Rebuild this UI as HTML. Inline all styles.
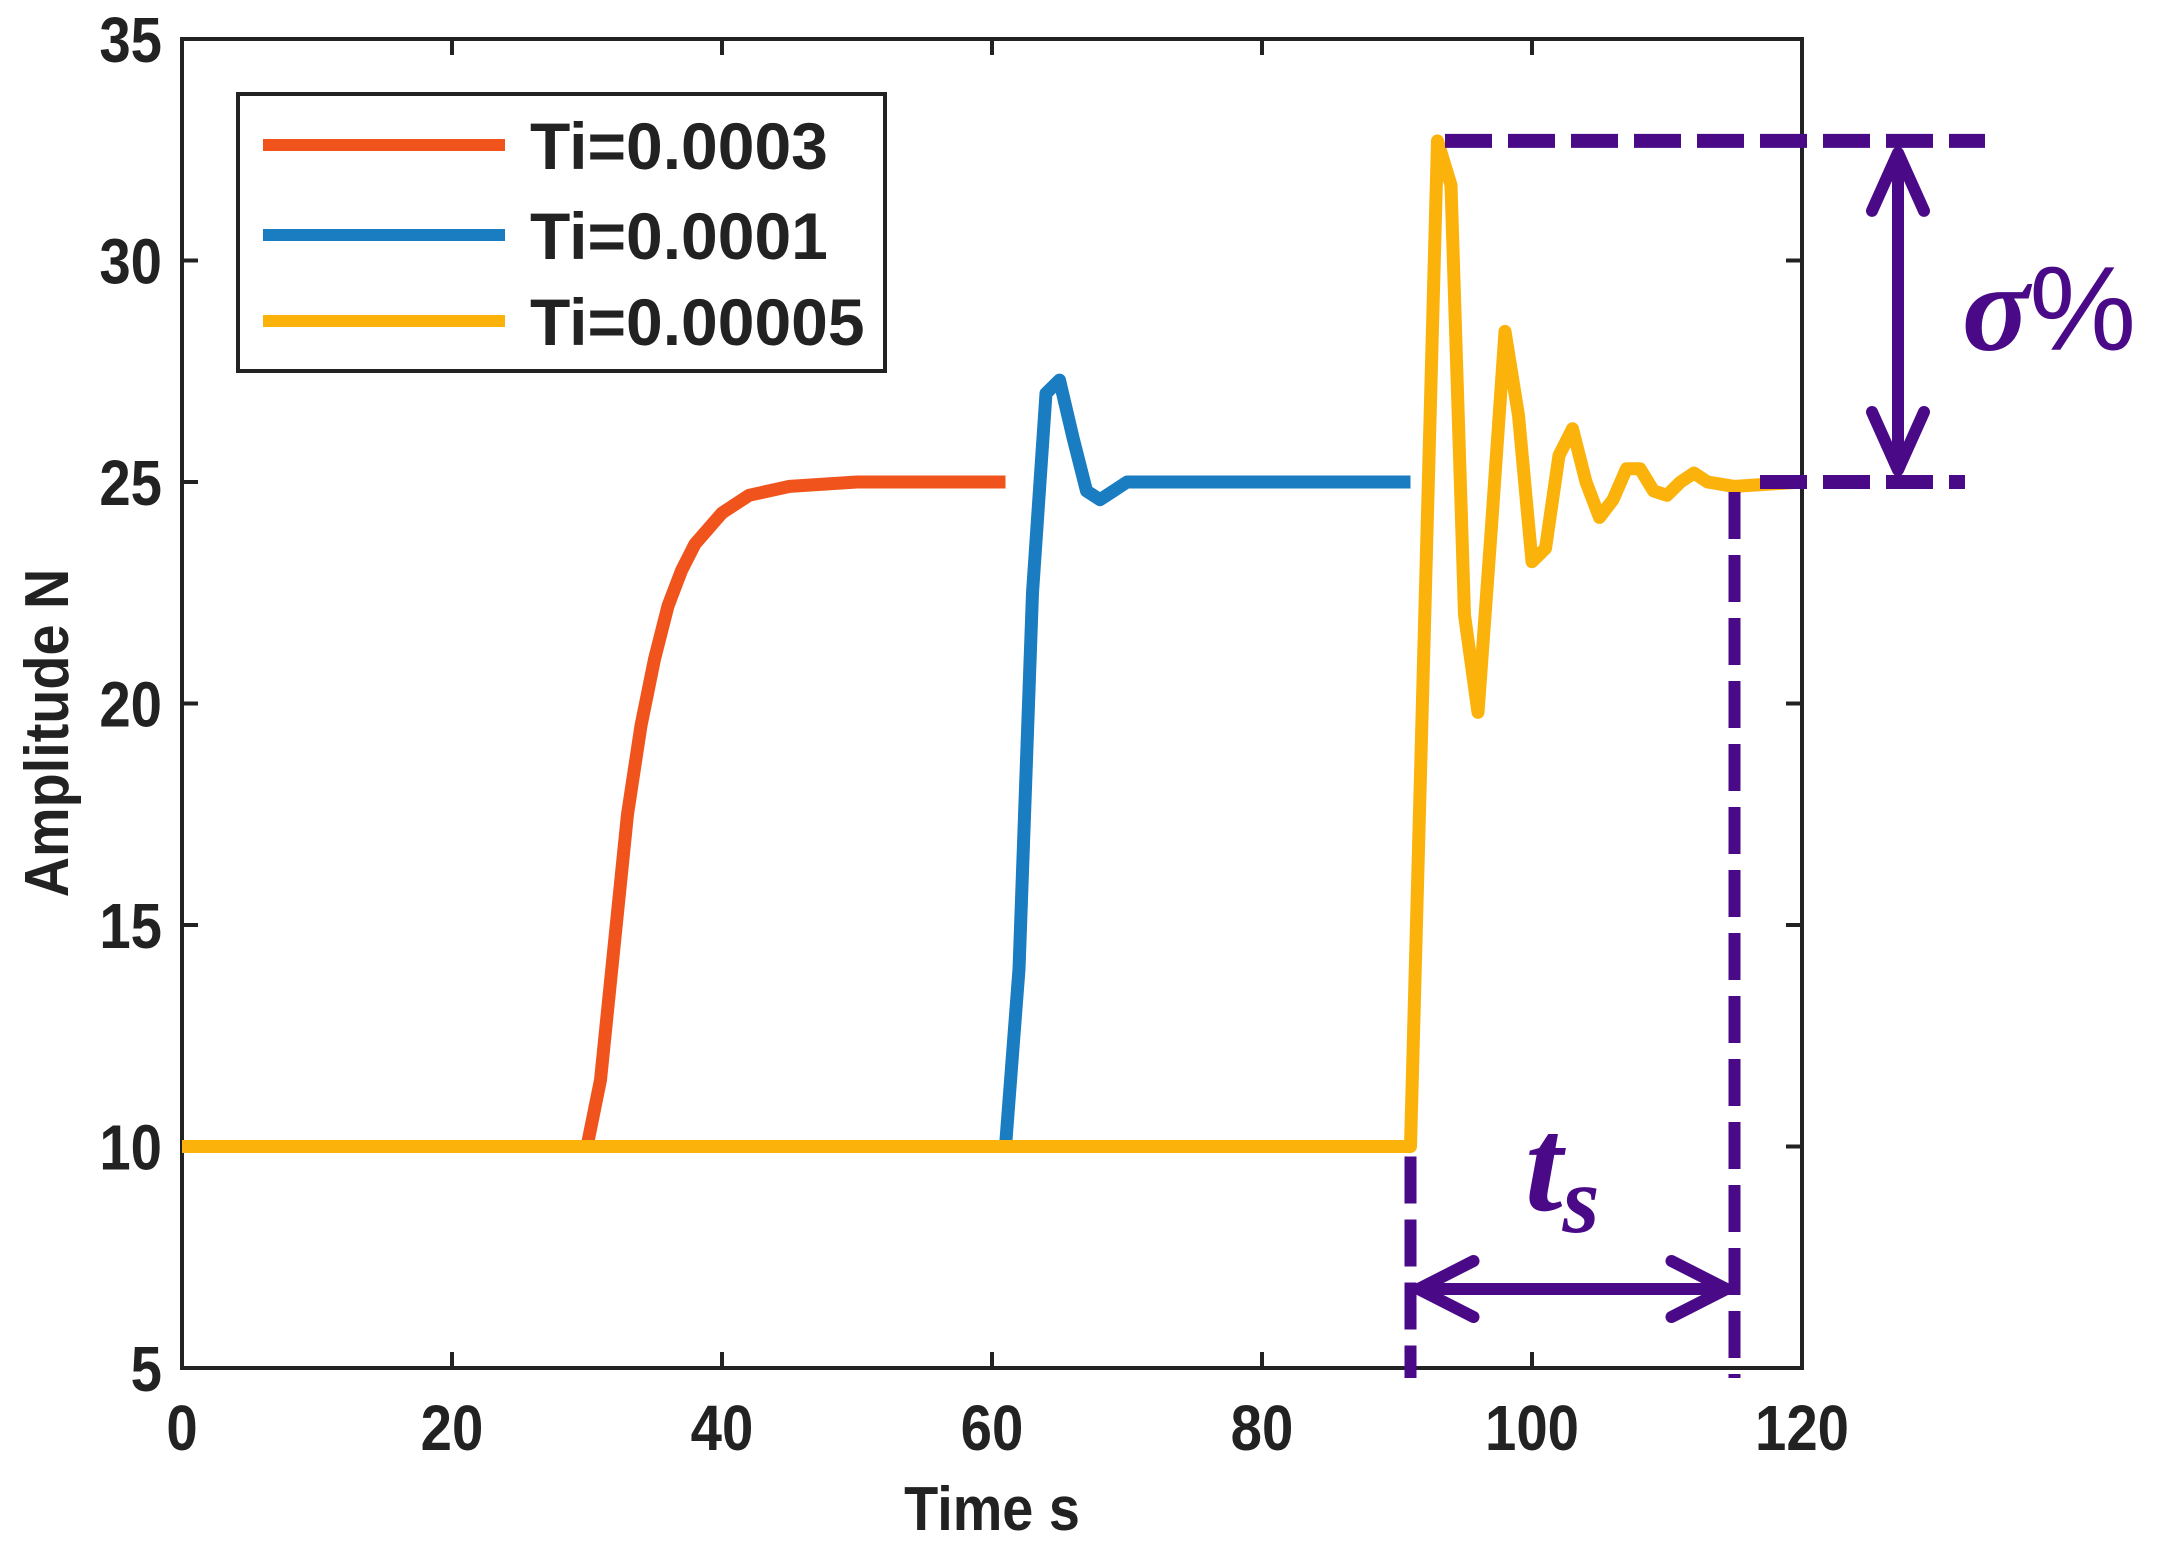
<!DOCTYPE html>
<html><head><meta charset="utf-8"><style>
html,body{margin:0;padding:0;background:#fff;}
svg{display:block;}
text{font-family:"Liberation Sans",Arial,sans-serif;font-weight:bold;fill:#222;}
</style></head><body>
<svg id="chart" width="2169" height="1563" viewBox="0 0 2169 1563" xmlns="http://www.w3.org/2000/svg">
<g id="plot"></g>
</svg>
<script>
const xTicks=[0,20,40,60,80,100,120];
const yTicks=[5,10,15,20,25,30,35];
const redT=[0,30,31,32,33,34,35,36,37,38,40,42,45,50,55,61];
const redY=[10,10,11.5,14.5,17.5,19.5,21,22.2,23,23.6,24.3,24.7,24.9,25,25,25];
const blueT=[0,61,62,63,64,65,66,67,68,69,70,72,80,91];
const blueY=[10,10,14,22.5,27,27.3,26,24.8,24.6,24.8,25,25,25,25];
const yelT=[0,91,93,94,95,96,97,98,99,100,101,102,103,104,105,106,107,108,109,110,111,112,113,115,120];
const yelY=[10,10,32.7,31.7,22,19.8,24,28.4,26.5,23.2,23.5,25.6,26.2,25,24.2,24.6,25.3,25.3,24.8,24.7,25,25.2,25,24.9,25];
const seriesNames=["Ti=0.0003","Ti=0.0001","Ti=0.00005"];
const seriesColors=["#f0541c","#1a7cc1","#fbb20a"];
const overshootPeak=32.7, steady=25, tStart=91, tSettle=115;

const L=182,R=1802,T=39,B=1368;
const sx=v=>L+(v-0)/(120-0)*(R-L);
const sy=v=>B-(v-5)/(35-5)*(B-T);
const NS="http://www.w3.org/2000/svg";
const g=document.getElementById('plot');
function mk(tag,attrs,parent){const e=document.createElementNS(NS,tag);for(const k in attrs)e.setAttribute(k,attrs[k]);(parent||g).appendChild(e);return e;}

let box=mk('rect',{x:L,y:T,width:R-L,height:B-T,fill:'none',stroke:'#222','stroke-width':4});


xTicks.forEach(v=>{
  const x=sx(v);
  let t=mk('line',{x1:x,y1:B,x2:x,y2:B-16,stroke:'#222','stroke-width':4});
  
  
  mk('line',{x1:x,y1:T,x2:x,y2:T+16,stroke:'#222','stroke-width':4});
  let lb=mk('text',{x:x,y:1450,'text-anchor':'middle','font-size':64,transform:`translate(${x} 0) scale(0.88 1) translate(${-x} 0)`});
  lb.textContent=v;
  
  
});
yTicks.forEach(v=>{
  const y=sy(v);
  let t=mk('line',{x1:L,y1:y,x2:L+16,y2:y,stroke:'#222','stroke-width':4});
  
  
  mk('line',{x1:R,y1:y,x2:R-16,y2:y,stroke:'#222','stroke-width':4});
  let lb=mk('text',{x:162,y:y+23,'text-anchor':'end','font-size':64,transform:`translate(162 0) scale(0.88 1) translate(-162 0)`});
  lb.textContent=v;
  
  
});
let xt=mk('text',{x:992,y:1530,'text-anchor':'middle','font-size':62,transform:'translate(992 0) scale(0.9 1) translate(-992 0)'});
xt.textContent='Time s';


let yt=mk('text',{x:0,y:0,'text-anchor':'middle','font-size':62,transform:'translate(68 733) rotate(-90) scale(0.9 1)'});
yt.textContent='Amplitude N';



function series(ts,ys,col,name){
  const d=ts.map((t,i)=>(i?'L':'M')+sx(t).toFixed(1)+' '+sy(ys[i]).toFixed(1)).join(' ');
  const p=mk('path',{d:d,fill:'none',stroke:col,'stroke-width':13,'stroke-linejoin':'round'});
  
  
}
series(redT,redY,seriesColors[0],'line-ti-0-0003');
series(blueT,blueY,seriesColors[1],'line-ti-0-0001');
series(yelT,yelY,seriesColors[2],'line-ti-0-00005');

const lg=mk('g',{});


mk('rect',{x:238,y:94,width:647,height:277,fill:'#fff',stroke:'#222','stroke-width':4},lg);
[145,235,321].forEach((y,i)=>{
  const e=mk('g',{},lg);
  
  
  mk('line',{x1:263,y1:y,x2:505,y2:y,stroke:seriesColors[i],'stroke-width':12},e);
  const t=mk('text',{x:530,y:y+24,'font-size':66},e);
  t.textContent=seriesNames[i];
});

const P='#4a0a87';
const ann=mk('g',{});


const yPk=sy(overshootPeak), ySt=sy(steady);
mk('line',{x1:1445,y1:yPk,x2:1985,y2:yPk,stroke:P,'stroke-width':14,'stroke-dasharray':'47 16'},ann);
mk('line',{x1:1760,y1:ySt,x2:1965,y2:ySt,stroke:P,'stroke-width':14,'stroke-dasharray':'47 16'},ann);
mk('line',{x1:sx(tStart),y1:sy(10)+10,x2:sx(tStart),y2:1378,stroke:P,'stroke-width':12,'stroke-dasharray':'47 16'},ann);
mk('line',{x1:sx(tSettle),y1:ySt+10,x2:sx(tSettle),y2:1378,stroke:P,'stroke-width':12,'stroke-dasharray':'47 16'},ann);
mk('line',{x1:1898,y1:yPk+18,x2:1898,y2:ySt-18,stroke:P,'stroke-width':12},ann);
mk('path',{d:`M1872 ${yPk+70} L1898 ${yPk+12} L1924 ${yPk+70} M1872 ${ySt-70} L1898 ${ySt-12} L1924 ${ySt-70}`,fill:'none',stroke:P,'stroke-width':12,'stroke-linecap':'round','stroke-linejoin':'round'},ann);
const ya=1289,xa1=sx(tStart)+8,xa2=sx(tSettle)-8;
mk('line',{x1:xa1,y1:ya,x2:xa2,y2:ya,stroke:P,'stroke-width':12},ann);
mk('path',{d:`M${xa1+55} ${ya-28} L${xa1} ${ya} L${xa1+55} ${ya+28} M${xa2-55} ${ya-28} L${xa2} ${ya} L${xa2-55} ${ya+28}`,fill:'none',stroke:P,'stroke-width':12,'stroke-linecap':'round','stroke-linejoin':'round'},ann);
const sig=mk('text',{x:1962,y:350,'font-size':125,style:`font-family:'Liberation Serif',serif;fill:${P}`},ann);
sig.innerHTML='<tspan font-style="italic">σ</tspan><tspan font-weight="normal" font-family="Liberation Sans" font-size="120">%</tspan>';


const ts=mk('text',{x:1525,y:1210,'font-size':135,style:`font-family:'Liberation Serif',serif;font-style:italic;fill:${P}`},ann);
ts.innerHTML='t<tspan font-size="95" dy="22">s</tspan>';


</script>
</body></html>
